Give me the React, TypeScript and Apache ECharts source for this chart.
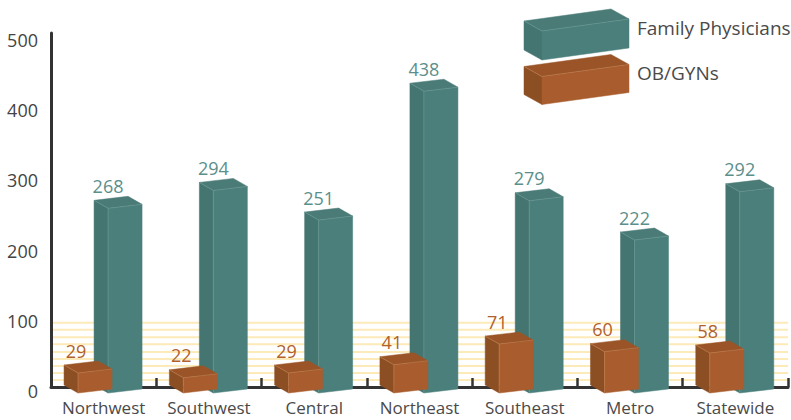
import React, { useEffect, useRef } from "react";
import * as echarts from "echarts";

const categories = ["Northwest", "Southwest", "Central", "Northeast", "Southeast", "Metro", "Statewide"];
const familyPhysicians = [268, 294, 251, 438, 279, 222, 292];
const obGyns = [29, 22, 29, 41, 71, 60, 58];
const stripeLevels = [92, 82, 71, 61, 50, 40, 30, 20, 10];
const seriesNames = ["Family Physicians", "OB/GYNs"];

const FONT = "'Open Sans', 'Noto Sans', sans-serif";
const TEAL = { front: "#4a7f7b", side: "#447570", top: "#4a7b77", edge: "#76a19d", label: "#5b8f8b" };
const RUST = { front: "#a95c2d", side: "#8c4e23", top: "#9a5427", edge: "#c98a5e", label: "#b0622c" };

// Corner offsets of the box drawn from its front corner
const LEFT = [-14, -8];
const RIGHT = [34, -4];
const BACK = [20, -12];

const poly = (points: number[][], fill: string) => ({
  type: "polygon",
  shape: { points },
  style: { fill, stroke: fill, lineWidth: 0.5 },
});
const edge = (a: number[], b: number[], stroke: string) => ({
  type: "line",
  shape: { x1: a[0], y1: a[1], x2: b[0], y2: b[1] },
  style: { stroke, lineWidth: 0.7, opacity: 0.7 },
});
const add = (p: number[], d: number[]) => [p[0] + d[0], p[1] + d[1]];

const boxRenderer = (c: typeof TEAL, shift: number, labelDx: number) => (params: any, api: any) => {
  const i = api.value(0);
  const v = api.value(1);
  const top = api.coord([i, v]);
  const base = api.coord([i, 0]);
  const fx = top[0] + shift * api.size([1, 0])[0];
  const F = [fx, top[1]];
  const B = [fx, base[1]];
  return {
    type: "group",
    children: [
      poly([add(F, LEFT), F, B, add(B, LEFT)], c.side),
      poly([F, add(F, RIGHT), add(B, RIGHT), B], c.front),
      poly([add(F, LEFT), add(F, BACK), add(F, RIGHT), F], c.top),
      edge(F, B, c.edge),
      edge(add(F, LEFT), F, c.edge),
      edge(F, add(F, RIGHT), c.edge),
      {
        type: "text",
        style: {
          x: fx + labelDx,
          y: F[1] - 22.5,
          text: String(v),
          fill: c.label,
          font: `18px ${FONT}`,
          align: "center",
          verticalAlign: "middle",
        },
      },
    ],
  };
};

const legendBox = (
  x: number, y: number, w: number, depthX: number, depthY: number, rise: number, h: number, c: typeof TEAL,
) => {
  const F = [x + depthX, y + depthY];
  const R = [F[0] + w, F[1] - rise];
  const L = [x, y];
  const K = [x + w, y - rise];
  const down = (p: number[]) => [p[0], p[1] + h];
  return [
    poly([L, F, down(F), down(L)], c.side),
    poly([F, R, down(R), down(F)], c.front),
    poly([L, K, R, F], c.top),
    edge(L, F, c.edge),
    edge(F, R, c.edge),
  ];
};

export default function App() {
  const ref = useRef<HTMLDivElement>(null);
  useEffect(() => {
    const chart = echarts.init(ref.current!, undefined, { renderer: "svg" });
    chart.setOption({
      animation: false,
      backgroundColor: "#ffffff",
      grid: [
        { left: 51, right: 3, top: 33, height: 354 },
        { left: 51, right: 3, top: 48.5, height: 344.5 },
        { left: 51, right: 3, top: 40, height: 351 },
      ],
      xAxis: [
        {
          type: "category",
          gridIndex: 0,
          z: 2,
          data: categories,
          axisLine: { lineStyle: { color: "#333333", width: 3 } },
          axisTick: { show: true, inside: true, interval: 0, length: 9, lineStyle: { color: "#333333", width: 2.5 } },
          axisLabel: { color: "#4a4a4a", fontFamily: FONT, fontSize: 17, margin: 12, interval: 0 },
        },
        { type: "category", gridIndex: 1, data: categories, show: false },
        { type: "category", gridIndex: 2, data: categories, show: false },
      ],
      yAxis: [
        {
          type: "value",
          gridIndex: 0,
          z: 2,
          min: 0,
          max: 506,
          axisLine: { show: true, lineStyle: { color: "#333333", width: 3 } },
          axisTick: { show: false },
          axisLabel: { show: false },
          splitLine: { show: false },
        },
        { type: "value", gridIndex: 1, min: 0, max: 500, show: false },
        {
          type: "value",
          gridIndex: 2,
          min: 0,
          max: 500,
          interval: 100,
          axisLine: { show: false },
          axisTick: { show: false },
          splitLine: { show: false },
          axisLabel: { color: "#444444", fontFamily: FONT, fontSize: 18, margin: 13 },
        },
      ],
      series: [
        {
          type: "custom",
          xAxisIndex: 0,
          yAxisIndex: 0,
          z: 1,
          silent: true,
          data: stripeLevels.map((v) => [0, v]),
          encode: { x: 0, y: 1 },
          renderItem: (params: any, api: any) => {
            const y = api.coord([0, api.value(1)])[1];
            const cs = params.coordSys;
            return {
              type: "line",
              shape: { x1: cs.x + 1, y1: y, x2: cs.x + cs.width, y2: y },
              style: { stroke: "#fdeab9", lineWidth: 2 },
            };
          },
        },
        {
          name: seriesNames[0],
          type: "custom",
          xAxisIndex: 1,
          yAxisIndex: 1,
          z: 3,
          data: familyPhysicians.map((v, i) => [i, v]),
          encode: { x: 0, y: 1 },
          renderItem: boxRenderer(TEAL, 0.042, 0),
        },
        {
          name: seriesNames[1],
          type: "custom",
          xAxisIndex: 1,
          yAxisIndex: 1,
          z: 4,
          data: obGyns.map((v, i) => [i, v]),
          encode: { x: 0, y: 1 },
          renderItem: boxRenderer(RUST, -0.243, -2),
        },
      ],
      graphic: [
        ...legendBox(524, 21, 87, 18, 10, 12, 29, TEAL),
        ...legendBox(524, 66.5, 87, 18, 10, 12, 28, RUST),
        {
          type: "text",
          x: 637,
          y: 28,
          style: { text: seriesNames[0], fill: "#4a4a4a", font: `19px ${FONT}`, verticalAlign: "middle" },
        },
        {
          type: "text",
          x: 637,
          y: 73,
          style: { text: seriesNames[1], fill: "#4a4a4a", font: `19px ${FONT}`, verticalAlign: "middle" },
        },
      ],
    });
    return () => chart.dispose();
  }, []);
  return <div ref={ref} style={{ width: 791, height: 420, position: "absolute", left: 0, top: 0 }} />;
}
